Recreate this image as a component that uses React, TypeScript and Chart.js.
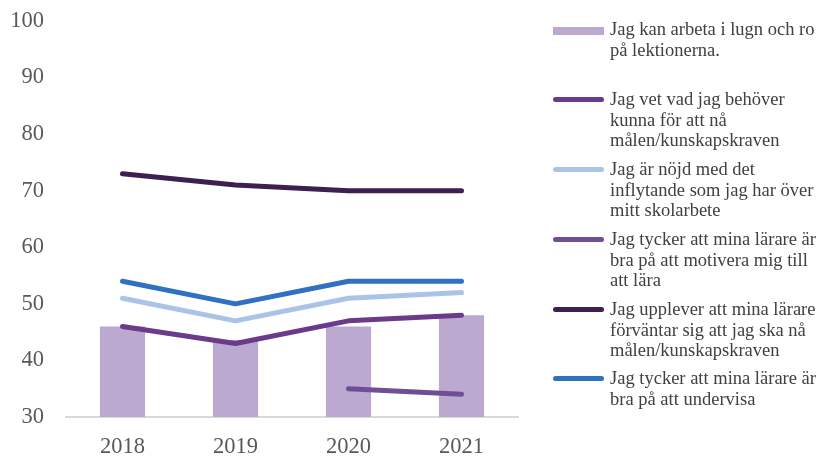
import React, { useEffect, useRef } from "react";
import { Chart, registerables } from "chart.js";

Chart.register(...registerables);

const years = ["2018", "2019", "2020", "2021"];
const lugnOchRo = [46, 43.6, 46, 48];
const vetVad = [46, 43, 47, 48];
const nojdInflytande = [51, 47, 51, 52];
const motivera = [null, null, 35, 34];
const forvantar = [73, 71, 70, 70];
const undervisa = [54, 50, 54, 54];
const yTicks = [30, 40, 50, 60, 70, 80, 90, 100];

const labels = [
  "Jag kan arbeta i lugn och ro på lektionerna.",
  "Jag vet vad jag behöver kunna för att nå målen/kunskapskraven",
  "Jag är nöjd med det inflytande som jag har över mitt skolarbete",
  "Jag tycker att mina lärare är bra på att motivera mig till att lära",
  "Jag upplever att mina lärare förväntar sig att jag ska nå målen/kunskapskraven",
  "Jag tycker att mina lärare är bra på att undervisa",
];
const colors = ["#BBA9CF", "#6A3A8C", "#AAC4E8", "#704E96", "#3D1F52", "#3171C2"];

const legendTops = [19, 89, 159, 229, 299, 368];
const SERIF = "'Liberation Serif', 'Times New Roman', 'DejaVu Serif', serif";

export default function App() {
  const ref = useRef<HTMLCanvasElement>(null);
  useEffect(() => {
    const ctx = ref.current!;
    const lineDs = (label: string, data: (number | null)[], color: string) => ({
      type: "line" as const,
      label,
      data,
      borderColor: color,
      backgroundColor: color,
      borderWidth: 5,
      pointRadius: 0,
      borderCapStyle: "round" as const,
      borderJoinStyle: "round" as const,
      tension: 0,
      spanGaps: false,
      order: 1,
    });
    const chart = new Chart(ctx, {
      type: "bar",
      data: {
        labels: years,
        datasets: [
          {
            type: "bar",
            label: labels[0],
            data: lugnOchRo,
            backgroundColor: colors[0],
            barPercentage: 0.4,
            categoryPercentage: 1,
            order: 10,
          } as any,
          lineDs(labels[1], vetVad, colors[1]),
          lineDs(labels[2], nojdInflytande, colors[2]),
          lineDs(labels[3], motivera, colors[3]),
          lineDs(labels[4], forvantar, colors[4]),
          lineDs(labels[5], undervisa, colors[5]),
        ],
      },
      options: {
        animation: false,
        responsive: false,
        maintainAspectRatio: false,
        layout: { padding: { top: 21, right: 2, left: 0, bottom: 0 } },
        plugins: { legend: { display: false }, tooltip: { enabled: false } },
        scales: {
          x: {
            offset: true,
            grid: { display: false, drawTicks: false },
            border: { display: true, color: "#D9D9D9", width: 2 },
            ticks: {
              padding: 17,
              color: "#595959",
              font: { family: SERIF, size: 22.5 },
            },
            afterFit: (s: any) => {
              s.height = 39;
              s.paddingLeft = 0;
              s.paddingRight = 0;
            },
          },
          y: {
            min: 30,
            max: 100,
            afterBuildTicks: (s: any) => {
              s.ticks = yTicks.map((v) => ({ value: v }));
            },
            grid: { display: false, drawTicks: false },
            border: { display: false },
            ticks: {
              padding: 22,
              color: "#595959",
              font: { family: SERIF, size: 22.5 },
            },
            afterFit: (s: any) => {
              s.width = 66;
              s.paddingTop = 0;
              s.paddingBottom = 0;
            },
          },
        },
      },
    });
    return () => chart.destroy();
  }, []);

  return (
    <div style={{ position: "fixed", left: 0, top: 0, width: 820, height: 456, background: "#fff" }}>
      <canvas ref={ref} width={520} height={456} style={{ position: "absolute", left: 0, top: 0 }} />
      {labels.map((t, i) => (
        <div key={i} style={{ position: "absolute", left: 553, top: legendTops[i], width: 267 }}>
          <div
            style={{
              position: "absolute",
              left: 0,
              top: 8,
              width: 51,
              height: i === 0 ? 8 : 5,
              background: colors[i],
              borderRadius: i === 0 ? 0 : 3,
            }}
          />
          <div
            style={{
              position: "absolute",
              left: 57,
              top: 0,
              width: 212,
              fontFamily: SERIF,
              fontSize: 18.5,
              lineHeight: "20.7px",
              color: "#404040",
            }}
          >
            {t}
          </div>
        </div>
      ))}
    </div>
  );
}
